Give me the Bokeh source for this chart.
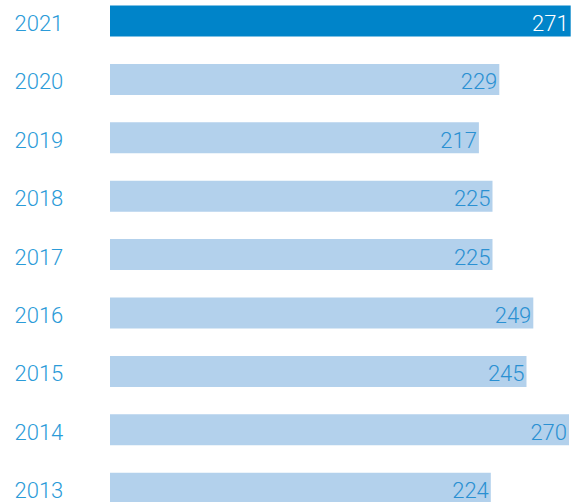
from bokeh.plotting import figure
from bokeh.models import Range1d, ColumnDataSource
from bokeh.core.properties import value
from bokeh.embed import file_html
from bokeh.resources import INLINE

years = ["2021", "2020", "2019", "2018", "2017", "2016", "2015", "2014", "2013"]
values = [271, 229, 217, 225, 225, 249, 245, 270, 224]
bar_colors = ["#0084c9"] + ["#b3d1ec"] * 8
label_colors = ["#ffffff"] + ["#2a90d2"] * 8

pos = list(range(len(years)))
src = ColumnDataSource(dict(y=pos, v=values, year=years, bc=bar_colors, lc=label_colors,
                            vt=[str(v) for v in values]))

W, H = 573, 502
x0_px = 109.5
scale = 1.70
pitch = 58.4
c0 = 20.5

p = figure(width=W, height=H, output_backend="svg", toolbar_location=None,
           x_range=Range1d(-x0_px / scale, (W - x0_px) / scale),
           y_range=Range1d((H - c0) / pitch, -c0 / pitch),
           min_border=0, outline_line_color=None)
p.axis.visible = False
p.grid.visible = False
p.background_fill_color = "white"
p.border_fill_color = "white"

p.hbar(y="y", right="v", left=0, height=31 / pitch, fill_color="bc", line_color=None, source=src)

p.text(x=-x0_px / scale, y="y", text="year", x_offset=14, y_offset=2,
       text_align="left", text_baseline="alphabetic", text_color="#2b9bd8",
       text_font=value("Roboto Light"), text_font_size="22px", source=src)

p.text(x="v", y="y", text="vt", x_offset=-2, y_offset=2,
       text_align="right", text_baseline="alphabetic", text_color="lc",
       text_font=value("Roboto Light"), text_font_size="22px", source=src)

open("out.html", "w").write(file_html(p, INLINE))
